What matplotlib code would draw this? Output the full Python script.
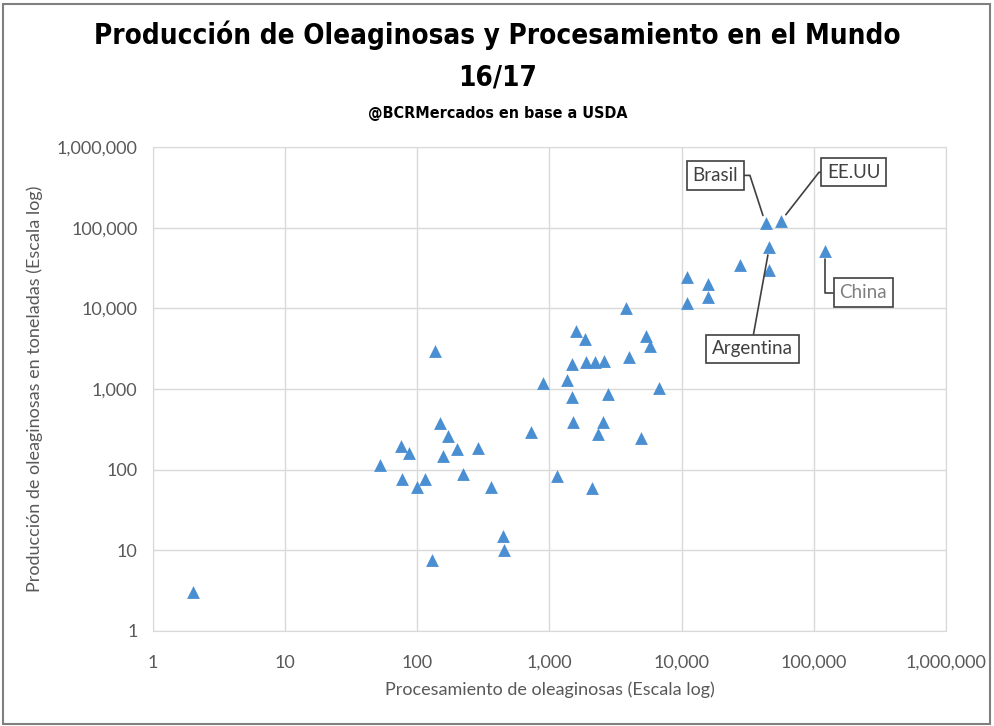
import matplotlib.pyplot as plt
import matplotlib.ticker as mticker
from matplotlib.patches import Rectangle

# Procesamiento (eje x) y produccion (eje y), miles de toneladas aprox.
procesamiento = [2, 52, 75, 86, 77, 99, 114, 129, 137, 148, 171, 157, 200, 220, 290,
                 363, 445, 455, 730, 900, 1140, 2080, 1360, 1470, 1470, 1500, 1580,
                 1860, 1880, 2200, 2580, 2320, 2550, 2760, 3800, 4000, 4900, 5350,
                 5800, 6700, 11000, 11000, 15700, 15700, 27500, 46000]
produccion = [3, 115, 195, 162, 76, 61, 76, 7.6, 3000, 375, 265, 149, 178, 88, 185,
              61, 15, 10, 290, 1200, 83, 60, 1300, 2070, 790, 390, 5300,
              4200, 2170, 2170, 2200, 280, 390, 860, 10000, 2500, 250, 4500,
              3400, 1030, 24500, 11700, 20000, 14000, 34000, 30000]

# Paises destacados
paises = ['Brasil', 'EE.UU', 'Argentina', 'China']
paises_proc = [43000, 56000, 46000, 122000]
paises_prod = [113000, 120000, 58000, 52000]

ticks = [1, 10, 100, 1000, 10000, 100000, 1000000]

azul = '#4a8fd2'
gris_txt = '#595959'
calibri = ['Lato', 'DejaVu Sans']

fig = plt.figure(figsize=(9.95, 7.26), dpi=100)
ax = fig.add_axes([0.1535, 0.1309, 0.7975, 0.6666])

ax.scatter(procesamiento + paises_proc, produccion + paises_prod,
           marker='^', s=85, color=azul, linewidths=0, zorder=3)

ax.set_xscale('log')
ax.set_yscale('log')
ax.set_xlim(1, 1000000)
ax.set_ylim(1, 1000000)
ax.set_xticks(ticks)
ax.set_yticks(ticks)
fmt = mticker.FuncFormatter(lambda v, p: f'{v:,.0f}')
ax.xaxis.set_major_formatter(fmt)
ax.yaxis.set_major_formatter(fmt)
ax.xaxis.set_minor_locator(mticker.NullLocator())
ax.yaxis.set_minor_locator(mticker.NullLocator())
ax.tick_params(axis='both', length=0, labelsize=13, colors=gris_txt)
ax.tick_params(axis='x', pad=17)
ax.tick_params(axis='y', pad=11)
for lab in ax.get_xticklabels() + ax.get_yticklabels():
    lab.set_family(calibri)

ax.grid(True, color='#d9d9d9', lw=1)
ax.set_axisbelow(True)
for s in ax.spines.values():
    s.set_color('#d9d9d9')

ax.set_xlabel('Procesamiento de oleaginosas (Escala log)', fontsize=13,
              color=gris_txt, family=calibri, labelpad=8)
ax.set_ylabel('Producción de oleaginosas en toneladas (Escala log)', fontsize=13,
              color=gris_txt, family=calibri, labelpad=10)

# Etiquetas de paises con linea guia
caja = dict(boxstyle='square,pad=0.3', fc='white', ec='#404040', lw=1.2)
etiq = {
    'Brasil':    dict(xy=(-50, 48), relpos=(1, 0.5), ang='angle,angleA=0,angleB=108,rad=0', col='#404040'),
    'EE.UU':     dict(xy=(73, 49), relpos=(0, 0.5), ang='angle,angleA=180,angleB=52,rad=0', col='#404040'),
    'Argentina': dict(xy=(-17, -102), relpos=(0.5, 1), ang='arc3', col='#404040'),
    'China':     dict(xy=(38, -42), relpos=(0, 0.5), ang='angle,angleA=180,angleB=-90,rad=0', col='#7f7f7f'),
}
for nom, xp, yp in zip(paises, paises_proc, paises_prod):
    e = etiq[nom]
    ax.annotate(nom, xy=(xp, yp), xytext=e['xy'], textcoords='offset pixels',
                ha='center', va='center', fontsize=13.5, color=e['col'], family=calibri,
                bbox=caja, zorder=4,
                arrowprops=dict(arrowstyle='-', color='#404040', lw=1.2,
                                connectionstyle=e['ang'], relpos=e['relpos'],
                                shrinkA=0, shrinkB=6))

titulo = dict(ha='center', va='center', fontweight='bold', fontstretch='condensed',
              family='DejaVu Sans')
fig.text(0.5, 0.952, 'Producción de Oleaginosas y Procesamiento en el Mundo',
         fontsize=20, **titulo)
fig.text(0.5, 0.893, '16/17', fontsize=20, **titulo)
fig.text(0.5, 0.843, '@BCRMercados en base a USDA', fontsize=11.5, **titulo)

fig.patches.append(Rectangle((0.003, 0.003), 0.992, 0.992, transform=fig.transFigure,
                             fill=False, ec='#7f7f7f', lw=1.5))

fig.savefig('out.png', dpi=100)
